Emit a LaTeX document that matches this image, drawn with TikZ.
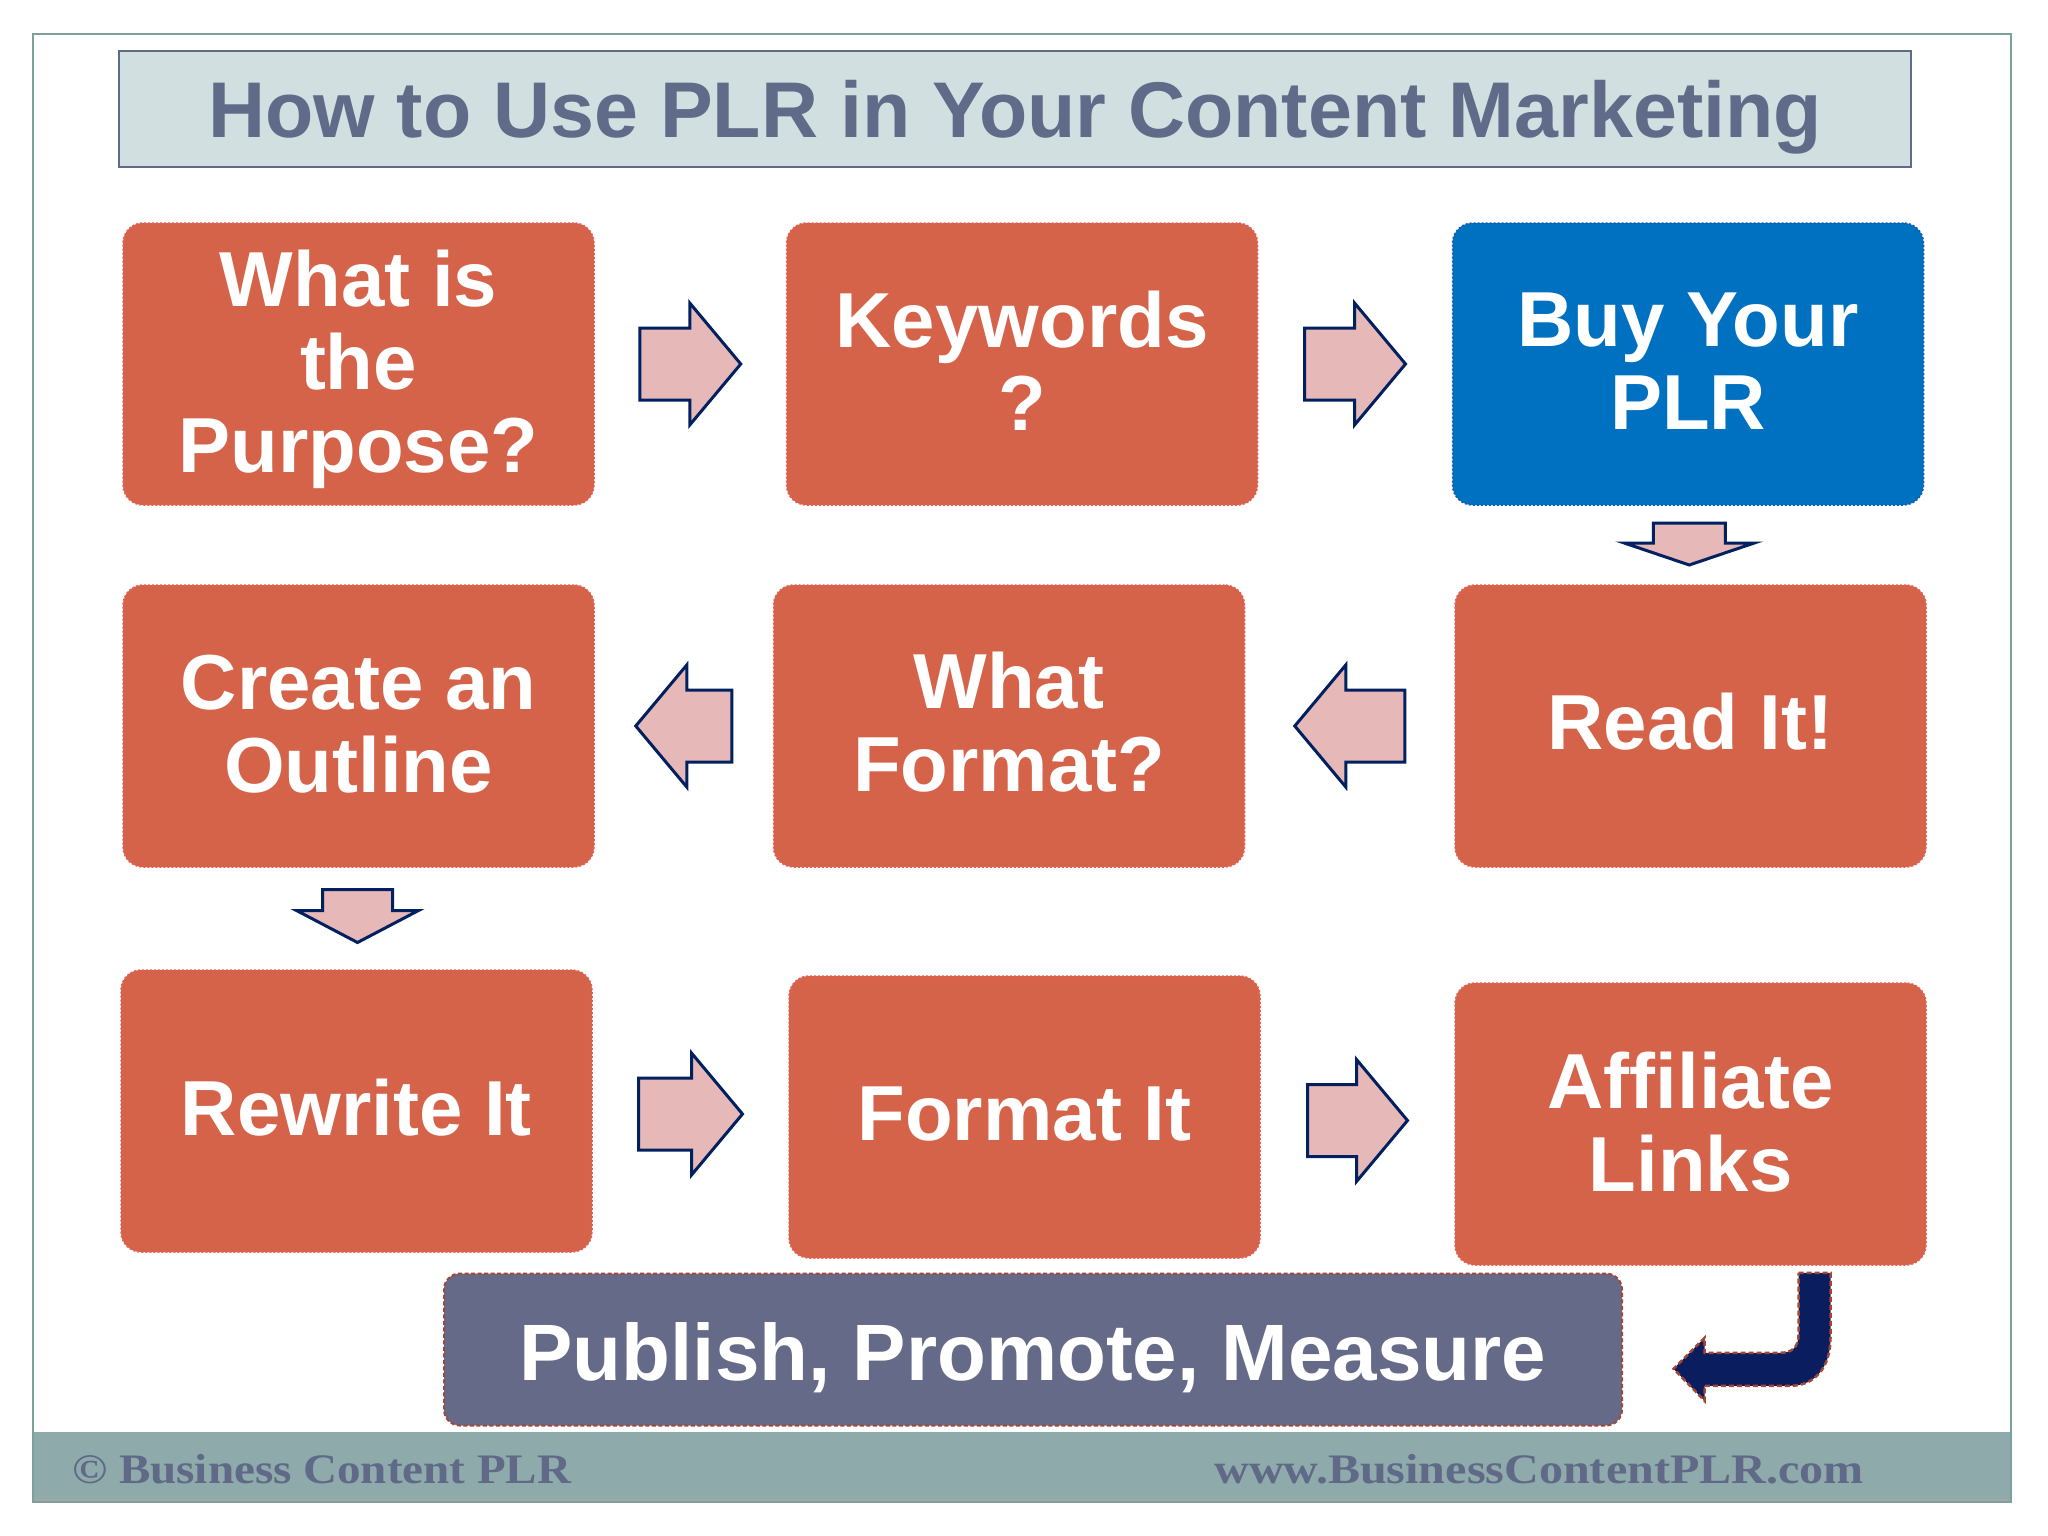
\documentclass[tikz,border=0pt]{standalone}
\usepackage{fontspec}
\usepackage{graphicx}
\setmainfont{Liberation Sans}
\newfontfamily\footfont{Liberation Serif}
\usetikzlibrary{calc}
\definecolor{boxorange}{RGB}{213,99,74}
\definecolor{boxorangeline}{RGB}{228,96,86}
\definecolor{boxblue}{RGB}{0,112,192}
\definecolor{boxblueline}{RGB}{30,90,170}
\definecolor{pubfill}{RGB}{100,106,135}
\definecolor{publine}{RGB}{165,70,50}
\definecolor{arrowfill}{RGB}{230,184,183}
\definecolor{navy}{RGB}{0,32,96}
\definecolor{bentfill}{RGB}{10,30,95}
\definecolor{titlefill}{RGB}{210,223,224}
\definecolor{titletext}{RGB}{95,107,136}
\definecolor{framecol}{RGB}{125,160,155}
\definecolor{footbg}{RGB}{143,170,170}
\definecolor{foottext}{RGB}{96,105,135}
\tikzset{
  stepbox/.style={rounded corners=20pt, minimum width=471pt, minimum height=282pt,
    inner sep=0pt, align=center, text=white,
    font=\fontsize{78}{83}\selectfont\bfseries,
    line width=1.5pt, dash pattern=on 2pt off 2pt},
  orangebox/.style={stepbox, fill=boxorange, draw=boxorangeline},
  bluebox/.style={stepbox, fill=boxblue, draw=boxblueline},
  barrow/.style={fill=arrowfill, draw=navy, line width=3pt, line join=miter},
  foottxt/.style={text=foottext, font=\fontsize{42}{46}\selectfont\footfont\bfseries, inner sep=0pt}
}
\newcommand\hblock[3]{%
  \draw[barrow, shift={(#1)}, rotate=#2]
    (-#3/2,-36) -- (#3/2-51,-36) -- (#3/2-51,-61) -- (#3/2,0) -- (#3/2-51,61)
    -- (#3/2-51,36) -- (-#3/2,36) -- cycle;}
\begin{document}
\begin{tikzpicture}[x=1pt,y=-1pt]
\useasboundingbox (0,0) rectangle (2048,1536);
\fill[white] (0,0) rectangle (2048,1536);
% footer band and frame
\fill[footbg] (33,1432) rectangle (2011,1502);
\draw[black!35, line width=2pt] (33,1500) -- (2011,1500);
\draw[framecol, line width=2.5pt] (33,34) rectangle (2011,1502);
% title
\node[draw=titletext, fill=titlefill, line width=2.5pt, minimum width=1792pt,
  minimum height=116pt, inner sep=0pt, text=titletext,
  font=\fontsize{79}{83}\selectfont\bfseries] (title) at (1015,109) {};
\node[text=titletext, font=\fontsize{79}{83}\selectfont\bfseries, inner sep=0pt,
  yshift=-8pt] (titletxt) at (title.center) {How to Use PLR in Your Content Marketing};
% boxes
\node[orangebox] (A) at (358.5,364) {};
\node[text=white, align=center, font=\fontsize{78}{83}\selectfont\bfseries, inner sep=0pt,
  yshift=-5pt] (Atxt) at (A.center) {What is\\the\\Purpose?};
\node[orangebox, yshift=0pt] (B) at (1022,364) {};
\node[text=white, align=center, font=\fontsize{78}{83}\selectfont\bfseries, inner sep=0pt,
  yshift=3pt] (Btxt) at (B.center) {Keywords\\?};
\node[bluebox] (C) at (1688,364) {};
\node[text=white, align=center, font=\fontsize{78}{83}\selectfont\bfseries, inner sep=0pt,
  yshift=3pt] (Ctxt) at (C.center) {Buy Your\\PLR};
\node[orangebox] (D) at (358.5,726) {};
\node[text=white, align=center, font=\fontsize{78}{83}\selectfont\bfseries, inner sep=0pt,
  yshift=2pt] (Dtxt) at (D.center) {Create an\\Outline};
\node[orangebox] (E) at (1009,726) {};
\node[text=white, align=center, font=\fontsize{78}{83}\selectfont\bfseries, inner sep=0pt,
  yshift=4pt] (Etxt) at (E.center) {What\\Format?};
\node[orangebox] (F) at (1690.5,726) {};
\node[text=white, align=center, font=\fontsize{78}{83}\selectfont\bfseries, inner sep=0pt,
  yshift=4pt] (Ftxt) at (F.center) {Read It!};
\node[orangebox] (G) at (356.5,1111) {};
\node[text=white, align=center, font=\fontsize{78}{83}\selectfont\bfseries, inner sep=0pt,
  yshift=3pt] (Gtxt) at (G.center) {Rewrite It};
\node[orangebox] (H) at (1024.5,1117) {};
\node[text=white, align=center, font=\fontsize{78}{83}\selectfont\bfseries, inner sep=0pt,
  yshift=3pt] (Htxt) at (H.center) {Format It};
\node[orangebox] (I) at (1690.5,1124) {};
\node[text=white, align=center, font=\fontsize{78}{83}\selectfont\bfseries, inner sep=0pt,
  yshift=2pt] (Itxt) at (I.center) {Affiliate\\Links};
\node[rounded corners=16pt, minimum width=1178pt, minimum height=152pt, inner sep=0pt,
  fill=pubfill, draw=publine, line width=2pt, dash pattern=on 4pt off 2.5pt] (J) at (1033,1349.5) {};
\node[text=white, font=\fontsize{80}{84}\selectfont\bfseries, inner sep=0pt,
  yshift=-8pt] (Jtxt) at (J.center) {Publish, Promote, Measure};
% connector coordinates
\coordinate (m1) at ($(A.east)!0.5!(B.west)$);
\coordinate (m2) at ($(B.east)!0.5!(C.west)$);
\coordinate (m3) at ($(C.south)!0.5!(F.north)$);
\coordinate (m4) at ($(F.west)!0.5!(E.east)$);
\coordinate (m5) at ($(E.west)!0.5!(D.east)$);
\coordinate (m6) at ($(D.south)!0.5!(G.north)$);
\coordinate (m7) at ($(G.east)!0.5!(H.west)$);
\coordinate (m8) at ($(H.east)!0.5!(I.west)$);
% block arrows
\hblock{m1}{0}{101}
\hblock{m2}{0}{101}
\hblock{m4}{180}{110}
\hblock{m5}{180}{96}
\hblock{m7}{0}{104}
\hblock{m8}{0}{100}
\draw[barrow, shift={(m3)}] (-36,-22) -- (36,-22) -- (36,-2) -- (65,-2) -- (0,20)
  -- (-65,-2) -- (-36,-2) -- cycle;
\draw[barrow, shift={(m6)}] (-35,-29) -- (35,-29) -- (35,-8) -- (61,-8) -- (0,24)
  -- (-61,-8) -- (-35,-8) -- cycle;
% bent arrow from I to J
\coordinate (bt) at ($(I.south)+(124,7)$);
\draw[fill=bentfill, draw=publine, line width=2.5pt, dash pattern=on 5pt off 3pt, shift={(bt)}]
  (-16,0) -- (16,0) -- (16,65) .. controls (16,95) and (0,113) .. (-24,113)
  -- (-110,113) -- (-110,128) -- (-141,96) -- (-110,65) -- (-110,80)
  -- (-34,80) .. controls (-22,80) and (-16,74) .. (-16,62) -- cycle;
% footer texts
\node[foottxt, anchor=base west] (copy) at (72,1483) {\scalebox{1.12}[1]{\textcopyright{} Business Content PLR}};
\node[foottxt, anchor=base east] (url) at (1864,1483) {\scalebox{1.145}[1]{www.BusinessContentPLR.com}};
\end{tikzpicture}
\end{document}
